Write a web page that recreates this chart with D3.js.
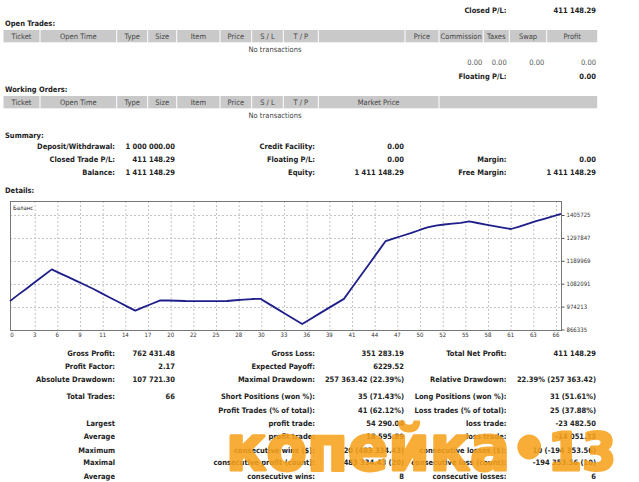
<!DOCTYPE html>
<html>
<head>
<meta charset="utf-8">
<script src="https://cdn.jsdelivr.net/npm/d3@7"></script>
<style>
  body { margin: 0; background: #fff; }
  text { font-family: "DejaVu Sans Condensed", "DejaVu Sans", sans-serif; }
</style>
</head>
<body>
<svg id="page" width="639" height="482"></svg>
<script>
// balans na elke trade (0 = storting)
const balance = [
  1000000, 1030500, 1059800, 1090100, 1119700, 1149642.12,
  1131000, 1112800, 1094500, 1076000, 1056900, 1036400, 1015800, 995600, 975300, 955288.56,
  971800, 987600, 1003900,
  1003000, 1001800, 1000600, 1000300, 1000000, 999800, 1000200, 1000600, 1004100, 1006800, 1009900, 1011000,
  987000, 963500, 939800, 916000, 892278.70,
  916000, 940000, 963500, 987000, 1010500,
  1065000, 1119500, 1174000, 1228500, 1283000,
  1296000, 1308000, 1320000, 1334000, 1347000, 1356000, 1361000, 1365000, 1369000, 1375613.13,
  1368000, 1360500, 1353000, 1346000, 1339800,
  1350500, 1364000, 1376500, 1388000, 1399500, 1411148.29
];
const xTickLabels = [0, 3, 6, 9, 11, 14, 17, 20, 22, 25, 28, 30, 33, 36, 39, 41, 44, 47, 50, 52, 55, 58, 61, 63, 66];
const yTickValues = [866335, 974213, 1082091, 1189969, 1297847, 1405725];

const tradeHeaders = ["Ticket", "Open Time", "Type", "Size", "Item", "Price", "S / L", "T / P", "", "Price", "Commission", "Taxes", "Swap", "Profit"];
const orderHeaders = ["Ticket", "Open Time", "Type", "Size", "Item", "Price", "S / L", "T / P", "Market Price", ""];
const tradeTotals = ["0.00", "0.00", "0.00", "0.00"];

const closedRow = ["", "", "", "", "Closed P/L:", "411 148.29"];
const floatingRow = ["", "", "", "", "Floating P/L:", "0.00"];
const summaryRows = [
  ["Deposit/Withdrawal:", "1 000 000.00", "Credit Facility:", "0.00", "", ""],
  ["Closed Trade P/L:", "411 148.29", "Floating P/L:", "0.00", "Margin:", "0.00"],
  ["Balance:", "1 411 148.29", "Equity:", "1 411 148.29", "Free Margin:", "1 411 148.29"]
];
const detailRows = [
  ["Gross Profit:", "762 431.48", "Gross Loss:", "351 283.19", "Total Net Profit:", "411 148.29"],
  ["Profit Factor:", "2.17", "Expected Payoff:", "6229.52", "", ""],
  ["Absolute Drawdown:", "107 721.30", "Maximal Drawdown:", "257 363.42 (22.39%)", "Relative Drawdown:", "22.39% (257 363.42)"],
  ["Total Trades:", "66", "Short Positions (won %):", "35 (71.43%)", "Long Positions (won %):", "31 (51.61%)"],
  ["", "", "Profit Trades (% of total):", "41 (62.12%)", "Loss trades (% of total):", "25 (37.88%)"],
  ["Largest", "", "profit trade:", "54 290.04", "loss trade:", "-23 482.50"],
  ["Average", "", "profit trade:", "18 595.89", "loss trade:", "-14 051.33"],
  ["Maximum", "", "consecutive wins ($):", "20 (483 334.43)", "consecutive losses ($):", "10 (-194 353.56)"],
  ["Maximal", "", "consecutive profit (count):", "483 334.43 (20)", "consecutive loss (count):", "-194 353.56 (10)"],
  ["Average", "", "consecutive wins:", "8", "consecutive losses:", "6"]
];

// layout
const fs = 7.5;
const rightEdges = [115, 175, 315, 404, 506.5, 596];
const tradeCols = [3, 40, 116.7, 147.7, 176.7, 220, 251.7, 283.3, 318.3, 405, 439, 483.3, 509.3, 546.7, 597.7];
const orderCols = [3, 40, 116.7, 147.7, 176.7, 220, 251.7, 283.3, 318.3, 439, 597.7];
const totalEdges = [482.3, 506.7, 544.3, 596];
const chart = {left: 10, right: 561, top: 201, bottom: 330};

const svg = d3.select("#page");

function title(y, t) {
  svg.append("text").attr("x", 5).attr("y", y + 2.7)
    .attr("font-size", fs).attr("font-weight", "bold").attr("fill", "#222").text(t);
}

function row(y, cells, edges, bold, color) {
  svg.append("g").selectAll("text").data(cells).join("text")
    .attr("x", (d, i) => edges[i]).attr("y", y + 2.7)
    .attr("text-anchor", "end")
    .attr("font-size", fs)
    .attr("font-weight", bold ? "bold" : "normal")
    .attr("fill", color)
    .text(d => d);
}

function headerBar(y, h, cols, labels) {
  const g = svg.append("g");
  g.selectAll("rect").data(labels).join("rect")
    .attr("x", (d, i) => cols[i] + 0.5).attr("y", y)
    .attr("width", (d, i) => cols[i + 1] - cols[i] - 1).attr("height", h)
    .attr("fill", "#c9c9c9");
  g.selectAll("text").data(labels).join("text")
    .attr("x", (d, i) => (cols[i] + cols[i + 1]) / 2).attr("y", y + h / 2 + 2.7)
    .attr("text-anchor", "middle").attr("font-size", fs).attr("fill", "#444")
    .text(d => d);
}

function noTrans(y) {
  svg.append("text").attr("x", 275).attr("y", y + 2.7).attr("text-anchor", "middle")
    .attr("font-size", fs).attr("fill", "#444").text("No transactions");
}

// bovenste gedeelte
row(10, closedRow, rightEdges, true, "#222");
title(23.3, "Open Trades:");
headerBar(30, 12.3, tradeCols, tradeHeaders);
noTrans(49.3);
row(62.7, tradeTotals, totalEdges, false, "#555");
row(76, floatingRow, rightEdges, true, "#222");
title(89.3, "Working Orders:");
headerBar(96, 12.3, orderCols, orderHeaders);
noTrans(115);

title(135, "Summary:");
[146, 159.3, 172.7].forEach((y, i) => row(y, summaryRows[i], rightEdges, true, "#222"));
title(190.7, "Details:");

// de grafiek
const x = d3.scaleLinear().domain([0, 66]).range([chart.left, chart.right]);
const y = d3.scaleLinear().domain([866335, 1405725]).range([329.5, 215]);
const xPos = d3.scalePoint().domain(xTickLabels.map(String)).range([11.5, 555.5]);

const cg = svg.append("g");
cg.append("g").selectAll("line").data(xTickLabels.slice(1)).join("line")
  .attr("x1", d => xPos(String(d)) + 1).attr("x2", d => xPos(String(d)) + 1)
  .attr("y1", chart.top).attr("y2", chart.bottom)
  .attr("stroke", "#c4c4c4").attr("stroke-dasharray", "2,2");
cg.append("g").selectAll("line").data(yTickValues.slice(1)).join("line")
  .attr("x1", chart.left).attr("x2", chart.right)
  .attr("y1", d => Math.round(y(d)) + 0.5).attr("y2", d => Math.round(y(d)) + 0.5)
  .attr("stroke", "#c4c4c4").attr("stroke-dasharray", "2,2");

cg.append("rect").attr("x", chart.left + 0.5).attr("y", chart.top + 0.5)
  .attr("width", chart.right - chart.left).attr("height", chart.bottom - chart.top)
  .attr("fill", "none").attr("stroke", "#777");

cg.append("text").attr("x", 13).attr("y", 210).attr("font-size", 6).attr("fill", "#222").text("Баланс");

const line = d3.line().x((d, i) => x(i)).y(d => y(d));
cg.append("path").datum(balance).attr("d", line)
  .attr("fill", "none").attr("stroke", "#1f1f8a").attr("stroke-width", 1.8).attr("stroke-linejoin", "round");

const yAxis = cg.append("g").attr("transform", "translate(" + (chart.right + 0.5) + ",0)")
  .call(d3.axisRight(y).tickValues(yTickValues).tickSize(3).tickPadding(2).tickFormat(d3.format("d")));
yAxis.select(".domain").remove();
yAxis.selectAll("text").attr("font-size", 6).attr("fill", "#333").attr("font-family", null);
yAxis.selectAll("line").attr("stroke", "#555");

const xAxis = cg.append("g").attr("transform", "translate(0," + chart.bottom + ")")
  .call(d3.axisBottom(xPos).tickSize(0).tickPadding(3));
xAxis.select(".domain").remove();
xAxis.selectAll("text").attr("font-size", 6).attr("fill", "#333").attr("font-family", null);

// statistieken
[353.3, 366, 379.3, 396.7, 410, 423.3, 436.7, 450, 462.7, 476]
  .forEach((yy, i) => row(yy, detailRows[i], rightEdges, true, "#222"));

// watermerk
const wm = svg.append("text").attr("x", 226).attr("y", 470)
  .attr("font-size", 62).attr("font-weight", "bold")
  .attr("textLength", 390).attr("lengthAdjust", "spacingAndGlyphs")
  .attr("fill", "#f7a21c").attr("stroke", "#f7a21c").attr("stroke-width", 3)
  .attr("stroke-linejoin", "round").attr("opacity", 0.88)
  .style("font-family", "'DejaVu Sans', sans-serif");
wm.append("tspan").text("копейка•");
wm.append("tspan").attr("font-size", 51).text("13");
</script>
</body>
</html>
